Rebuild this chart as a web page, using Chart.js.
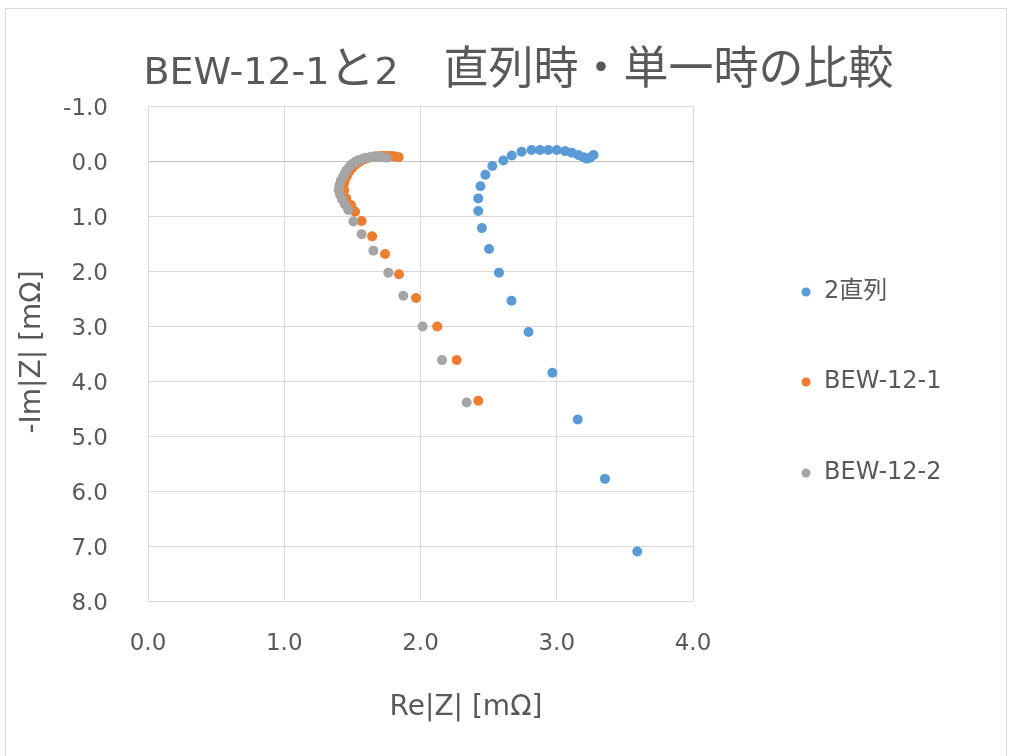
<!DOCTYPE html>
<html lang="ja">
<head>
<meta charset="utf-8">
<script src="https://cdn.jsdelivr.net/npm/chart.js@4/dist/chart.umd.min.js"></script>
<style>
  html, body { margin: 0; padding: 0; background: #ffffff; }
  #wrap { width: 1011px; height: 756px; }
</style>
</head>
<body>
<div id="wrap"><canvas id="nyquist" width="1011" height="756"></canvas></div>
<script>
// Title pieces: Latin runs and Japanese runs use different faces
const titleRuns = [
  ['BEW-12-1', 'latin'],
  ['と', 'cjk'],
  ['2', 'latin'],
  ['\u3000直列時・単一時の比較', 'cjk']
];
const xAxisTitle = 'Re|Z| [mΩ]';
const yAxisTitle = '-Im|Z| [mΩ]';

const seriesLabels = ['2直列', 'BEW-12-1', 'BEW-12-2'];
const seriesColors = ['#5B9BD5', '#ED7D31', '#A5A5A5'];

const xTicks = [0, 1, 2, 3, 4];
const yTicks = [-1, 0, 1, 2, 3, 4, 5, 6, 7, 8];

// 2直列
const reSeries2 = [3.27, 3.245, 3.22, 3.195, 3.158, 3.11, 3.061, 3.0, 2.938, 2.877, 2.815, 2.742, 2.67, 2.608,
  2.527, 2.476, 2.44, 2.424, 2.424, 2.451, 2.503, 2.576, 2.668, 2.793, 2.968, 3.154, 3.354, 3.591];
const imSeries2 = [-0.11, -0.06, -0.04, -0.07, -0.11, -0.15, -0.18, -0.2, -0.2, -0.2, -0.2, -0.17, -0.10, -0.01,
  0.09, 0.25, 0.46, 0.68, 0.91, 1.22, 1.60, 2.03, 2.54, 3.11, 3.85, 4.70, 5.78, 7.10];

// BEW-12-1
const reBew1 = [1.84, 1.815, 1.79, 1.76, 1.73, 1.70, 1.67, 1.64, 1.61, 1.585, 1.56, 1.54, 1.52, 1.50, 1.48,
  1.465, 1.45, 1.44, 1.44, 1.455, 1.49, 1.52, 1.568, 1.645, 1.74, 1.842, 1.967, 2.123, 2.265, 2.424];
const imBew1 = [-0.07, -0.08, -0.09, -0.09, -0.09, -0.09, -0.08, -0.07, -0.05, -0.03, 0.0, 0.03, 0.07, 0.12, 0.18,
  0.25, 0.32, 0.40, 0.53, 0.68, 0.80, 0.92, 1.09, 1.37, 1.69, 2.06, 2.49, 3.01, 3.62, 4.36];

// BEW-12-2
const reBew2 = [1.75, 1.72, 1.69, 1.66, 1.63, 1.60, 1.575, 1.55, 1.525, 1.50, 1.48, 1.46, 1.445, 1.43, 1.415,
  1.405, 1.40, 1.41, 1.425, 1.445, 1.47, 1.507, 1.568, 1.654, 1.764, 1.874, 2.016, 2.158, 2.339];
const imBew2 = [-0.06, -0.07, -0.08, -0.08, -0.07, -0.06, -0.04, -0.02, 0.01, 0.05, 0.10, 0.16, 0.22, 0.29, 0.36,
  0.44, 0.53, 0.62, 0.70, 0.79, 0.89, 1.10, 1.33, 1.63, 2.03, 2.45, 3.01, 3.62, 4.39];

const toPoints = (re, im) => re.map((x, i) => ({ x: x, y: im[i] }));

const TEXT = '#595959';
const GRID = '#d9d9d9';
const LATIN = '"DejaVu Sans", "Noto Sans CJK JP", sans-serif';
const CJK = '"Noto Sans CJK JP", "DejaVu Sans", sans-serif';

// Frame, title, axis titles and legend drawn around the plot
const decorations = {
  id: 'decorations',
  beforeDraw(chart) {
    const ctx = chart.ctx;
    ctx.save();
    ctx.strokeStyle = GRID;
    ctx.lineWidth = 1;
    ctx.strokeRect(5.5, 8.5, 1001, 800);
    ctx.restore();
  },
  afterDraw(chart) {
    const ctx = chart.ctx;
    ctx.save();
    ctx.fillStyle = TEXT;

    // chart title
    const fonts = { latin: '38px ' + LATIN, cjk: '45px ' + CJK };
    let total = 0;
    titleRuns.forEach(([t, f]) => { ctx.font = fonts[f]; total += ctx.measureText(t).width; });
    let x = 518.5 - total / 2;
    ctx.textBaseline = 'alphabetic';
    ctx.textAlign = 'left';
    titleRuns.forEach(([t, f]) => {
      ctx.font = fonts[f];
      ctx.fillText(t, x, 84);
      x += ctx.measureText(t).width;
    });

    // axis titles
    ctx.font = '28px ' + LATIN;
    ctx.textAlign = 'center';
    ctx.textBaseline = 'middle';
    ctx.fillText(xAxisTitle, 466, 708);
    ctx.save();
    ctx.translate(33, 352);
    ctx.rotate(-Math.PI / 2);
    ctx.fillText(yAxisTitle, 0, 0);
    ctx.restore();

    // legend
    ctx.font = '24px ' + LATIN;
    ctx.textAlign = 'left';
    ctx.textBaseline = 'middle';
    const rows = [292, 382, 473];
    chart.data.datasets.forEach((ds, i) => {
      ctx.fillStyle = ds.backgroundColor;
      ctx.beginPath();
      ctx.arc(806, rows[i], 4.5, 0, Math.PI * 2);
      ctx.fill();
      ctx.fillStyle = TEXT;
      ctx.fillText(ds.label, 824, rows[i]);
    });
    ctx.restore();
  }
};

const datasets = [
  { label: seriesLabels[0], data: toPoints(reSeries2, imSeries2), order: 2 },
  { label: seriesLabels[1], data: toPoints(reBew1, imBew1), order: 1 },
  { label: seriesLabels[2], data: toPoints(reBew2, imBew2), order: 0 }
].map((d, i) => Object.assign(d, {
  backgroundColor: seriesColors[i],
  borderColor: seriesColors[i],
  borderWidth: 0,
  pointRadius: 5,
  pointHoverRadius: 5,
  showLine: false
}));

new Chart(document.getElementById('nyquist'), {
  type: 'scatter',
  data: { datasets: datasets },
  plugins: [decorations],
  options: {
    responsive: false,
    animation: false,
    devicePixelRatio: 1,
    events: [],
    layout: { padding: { left: 5, right: 318, top: 106, bottom: 32 } },
    plugins: {
      legend: { display: false },
      title: { display: false },
      tooltip: { enabled: false }
    },
    scales: {
      x: {
        type: 'linear',
        min: xTicks[0],
        max: xTicks[xTicks.length - 1],
        afterBuildTicks: s => { s.ticks = xTicks.map(v => ({ value: v })); },
        afterFit: s => { s.height = 123; },
        grid: { color: GRID, drawTicks: false, lineWidth: 1 },
        border: { color: GRID },
        ticks: {
          padding: 29,
          color: TEXT,
          font: { family: LATIN, size: 23 },
          callback: v => Number(v).toFixed(1)
        }
      },
      y: {
        type: 'linear',
        reverse: true,
        min: yTicks[0],
        max: yTicks[yTicks.length - 1],
        afterBuildTicks: s => { s.ticks = yTicks.map(v => ({ value: v })); },
        afterFit: s => { s.width = 143; },
        grid: {
          color: c => (c.tick && c.tick.value === 0 ? '#bfbfbf' : GRID),
          drawTicks: false,
          lineWidth: 1
        },
        border: { color: GRID },
        ticks: {
          padding: 40,
          labelOffset: 3,
          color: TEXT,
          font: { family: LATIN, size: 23 },
          callback: v => Number(v).toFixed(1)
        }
      }
    }
  }
});
</script>
</body>
</html>
